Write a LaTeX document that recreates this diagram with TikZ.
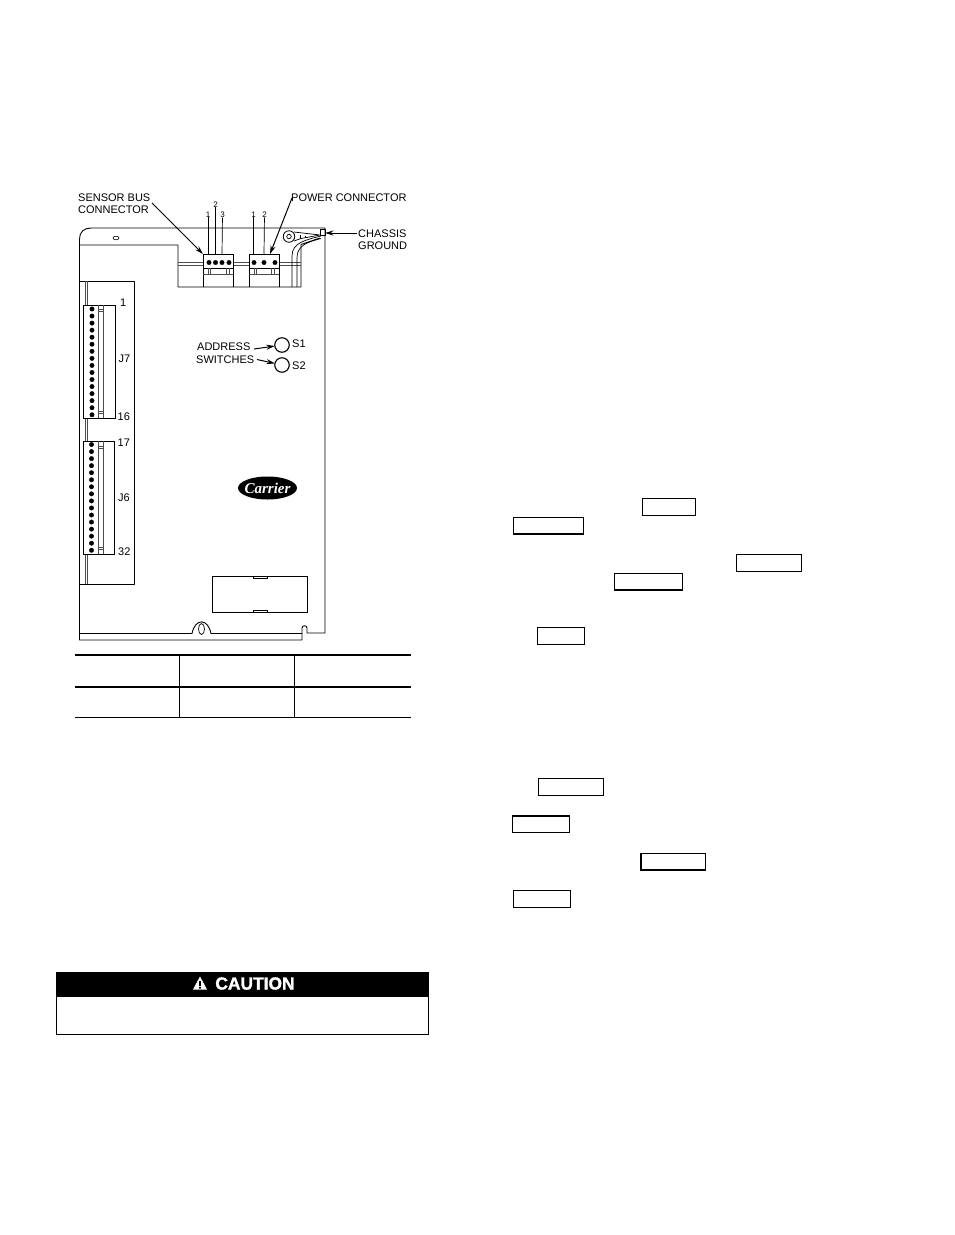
\documentclass[tikz,border=0pt]{standalone}
\usepackage{fontspec}
\setmainfont{Liberation Sans}
\newfontfamily\logofont{Liberation Serif}
\newfontfamily\cautionfont[BoldFeatures={FakeBold=1.6}]{Liberation Sans}
\usetikzlibrary{arrows.meta,shapes.geometric}
\tikzstyle{callout}=[inner sep=0pt,font=\fontsize{11}{12.4}\selectfont]
\tikzstyle{pinno}=[inner sep=0pt,font=\fontsize{8}{9}\selectfont]
\tikzstyle{blackpin}=[circle,draw=black,fill=black,inner sep=0pt,minimum size=4.4pt]
\tikzstyle{switchdot}=[circle,draw=black,fill=white,line width=1.1pt,inner sep=0pt,outer sep=0pt,minimum size=14.5pt]
\tikzstyle{keybox}=[draw=black,line width=1pt,inner sep=0pt,outer sep=0pt,anchor=north west]
\tikzstyle{leader}=[line width=1pt,-{Stealth[length=8.5pt,width=5pt]}]
\tikzstyle{board}=[line width=0.9pt,line join=round]
\tikzstyle{thinline}=[line width=0.5pt,black!70]

\begin{document}
\begin{tikzpicture}[x=1pt,y=-1pt]
    \useasboundingbox (0,0) rectangle (954,1235);

    % board outline
    \draw[board] (79.5,245) -- (79.5,239) .. controls (79.5,232) and (84,228) .. (91,228)
      -- (325,228) -- (325,633) -- (307,633) -- (307,628) .. controls (307,625) and (302,625) .. (302,628)
      -- (302,640) -- (79.5,640) -- cycle;
    \draw[board] (79.5,633.5) -- (192,633.5) .. controls (195,618) and (208,618) .. (211,633.5) -- (302,633.5);
    \node (hole1) at (116,238) [draw,ellipse,line width=0.6pt,inner sep=0pt,minimum width=6pt,minimum height=3.5pt]{};
    \draw[line width=0.7pt] (201.5,629) ellipse [x radius=3,y radius=5.5];

    % top recess
    \draw[board] (79.5,245) -- (178,245) -- (178,287) -- (301,287) -- (301,244.5) -- (320,238);
    \draw[thinline] (178,262.5) -- (203,262.5) (178,265) -- (203,265);
    \draw[thinline] (233,262.5) -- (249,262.5) (233,265) -- (249,265);
    \draw[thinline] (279,262.5) -- (301,262.5) (279,265) -- (301,265);

    % left recess
    \draw[board] (79.5,281) -- (134,281) -- (134,584) -- (79.5,584);
    \draw[thinline] (85.5,281) -- (85.5,305) (87.5,281) -- (87.5,305);
    \draw[thinline] (85.5,418) -- (85.5,441) (87.5,418) -- (87.5,441);
    \draw[thinline] (85.5,554) -- (85.5,584) (87.5,554) -- (87.5,584);

    % sensor bus connector
    \node (sbus) at (203,254) [keybox,minimum width=30pt,minimum height=14pt]{};
    \draw[board] (203,268) -- (203,287) (233,268) -- (233,287);
    \foreach \xp in {209,215.5,222,229} \node (sb\xp) at (\xp,262.5) [blackpin]{};
    \draw[thinline] (208,268) -- (208,274) (210.5,268) -- (210.5,274) (226,268) -- (226,274) (229,268) -- (229,274);
    \draw[thinline] (203,274) -- (233,274);

    % power connector
    \node (pwr) at (249,254) [keybox,minimum width=30pt,minimum height=14pt]{};
    \draw[board] (249,268) -- (249,287) (279,268) -- (279,287);
    \foreach \xp in {254,264,275} \node (pw\xp) at (\xp,262.5) [blackpin]{};
    \draw[thinline] (254,268) -- (254,274) (256.5,268) -- (256.5,274) (271,268) -- (271,274) (274,268) -- (274,274);
    \draw[thinline] (249,274) -- (279,274);

    % pin numbers
    \node (sn1) at (208,214.5) [pinno]{1};
    \node (sn2) at (215.5,204.5) [pinno]{2};
    \node (sn3) at (222.5,214.5) [pinno]{3};
    \node (pn1) at (253.5,214.5) [pinno]{1};
    \node (pn2) at (264.5,214.5) [pinno]{2};
    \coordinate (sb1) at (208,254);
    \coordinate (sb2) at (215.5,254);
    \coordinate (sb3) at (222,254);
    \coordinate (pw1) at (253.5,254);
    \coordinate (pw2) at (264,254);
    \draw[line width=0.7pt] (sn1) -- (sb1);
    \draw[line width=0.7pt] (sn2) -- (sb2);
    \draw[line width=0.7pt] (sn3) -- (sb3);
    \draw[line width=0.7pt] (pn1) -- (pw1);
    \draw[line width=0.7pt] (pn2) -- (pw2);

    % ground lug and wire
    \node (lug) at (289,236.5) [circle,draw=black,line width=0.8pt,inner sep=0pt,outer sep=0pt,minimum size=11.5pt]{};
    \node (lughole) at (289,236.5) [circle,draw=black,line width=0.7pt,inner sep=0pt,outer sep=0pt,minimum size=4.5pt]{};
    \node (tab) at (320.5,229) [keybox,minimum width=4.5pt,minimum height=6pt]{};
    \draw[line width=0.7pt] (294,232) -- (320,235) (294,241) -- (301,238.5) -- (320,235);
    \draw[line width=0.7pt] (321,236) .. controls (305,240) and (292,243) .. (292,256) -- (292,287);
    \draw[line width=0.7pt] (321,238.5) .. controls (308,242) and (297,245) .. (297,258) -- (297,287);
    \draw[line width=0.5pt] (300,235) -- (300,239) (305,235.5) -- (305,238);

    % connectors J7 and J6
    \node (jseven) at (83.5,305) [keybox,minimum width=31.5pt,minimum height=113pt]{};
    \draw[thinline] (98,305) -- (98,418) (103,305) -- (103,418);
    \draw[thinline] (98,309) -- (103,309) (98,311) -- (103,311) (98,411) -- (103,411) (98,413) -- (103,413);
    \foreach \n in {0,...,15} \node (aa\n) at (92,309+7.05*\n) [blackpin]{};
    \node (jsix) at (83.5,441) [keybox,minimum width=31pt,minimum height=113pt]{};
    \draw[thinline] (98,441) -- (98,554) (103,441) -- (103,554);
    \draw[thinline] (98,446) -- (103,446) (98,448) -- (103,448) (98,547) -- (103,547) (98,549) -- (103,549);
    \foreach \n in {0,...,15} \node (bb\n) at (91.5,444.5+7.05*\n) [blackpin]{};
    \node (no1) at (120,302.5) [callout,anchor=west]{1};
    \node (nj7) at (118.5,359) [callout,anchor=west]{J7};
    \node (no16) at (117.5,416.5) [callout,anchor=west]{16};
    \node (no17) at (117.5,442.5) [callout,anchor=west]{17};
    \node (nj6) at (118,498) [callout,anchor=west]{J6};
    \node (no32) at (118,551.5) [callout,anchor=west]{32};

    % callouts
    \node (sensor) at (78,203.5) [callout,align=left,anchor=west]{SENSOR BUS\\CONNECTOR};
    \node (power) at (291,198) [callout,anchor=west]{POWER CONNECTOR};
    \node (chassis) at (358,239.5) [callout,align=left,anchor=west]{CHASSIS\\GROUND};
    \coordinate (sensorfrom) at (152,203);
    \coordinate (powerfrom) at (292,198);
    \coordinate (chassisfrom) at (357,233);
    \coordinate (chassisto) at (325,233);
    \coordinate (sensorto) at (203,254);
    \coordinate (powerto) at (270,254);
    \draw[leader] (sensorfrom) -- (sensorto);
    \draw[leader] (powerfrom) -- (powerto);
    \draw[leader] (chassisfrom) -- (chassisto);

    % address switches
    \node (swa) at (282,345) [switchdot]{};
    \node (swb) at (282,365) [switchdot]{};
    \node (sone) at (292,344) [callout,anchor=west]{S1};
    \node (stwo) at (292,365.5) [callout,anchor=west]{S2};
    \node (addr) at (197,346.5) [callout,anchor=west]{ADDRESS};
    \node (swit) at (196,359.5) [callout,anchor=west]{SWITCHES};
    \coordinate (addrfrom) at (254,349);
    \coordinate (switfrom) at (257,359.5);
    \draw[leader] (addrfrom) -- (swa);
    \draw[leader] (switfrom) -- (swb);

    % logo
    \node (logo) at (267.5,488) [ellipse,fill=black,inner sep=0pt,outer sep=0pt,minimum width=59pt,minimum height=23pt]{};
    \node (logotext) at (267.5,488) [inner sep=0pt,text=white,font=\logofont\bfseries\itshape\fontsize{15}{15}\selectfont]{Carrier};

    % label plate
    \node (plate) at (212,576) [keybox,line width=0.7pt,minimum width=95pt,minimum height=36pt]{};
    \draw[line width=0.6pt] (253,576) -- (253,578) -- (267,578) -- (267,576);
    \draw[line width=0.6pt] (253,612) -- (253,610) -- (267,610) -- (267,612);

    % empty table
    \coordinate (tl) at (75,655);
    \coordinate (tr) at (411,655);
    \coordinate (ml) at (75,687);
    \coordinate (mr) at (411,687);
    \coordinate (bl) at (75,717);
    \coordinate (br) at (411,717);
    \draw[line width=1.8pt] (tl) -- (tr);
    \draw[line width=1.8pt] (ml) -- (mr);
    \draw[line width=0.9pt] (bl) -- (br);
    \draw[line width=0.9pt] (179.5,655) -- (179.5,717) (294.5,655) -- (294.5,717);

    % caution panel
    \node (panel) at (56.5,972) [keybox,minimum width=372pt,minimum height=62pt]{};
    \fill[black] (56.5,972) rectangle (428.5,997);
    \node (caution) at (255,983.5) [inner sep=0pt,text=white,font=\cautionfont\bfseries\fontsize{17.4}{18}\selectfont]{CAUTION};
    \coordinate (tria) at (200,976.5);
    \coordinate (trib) at (193,989.5);
    \coordinate (tric) at (207,989.5);
    \fill[white] (tria) -- (tric) -- (trib) -- cycle;
    \fill[black] (199.2,981) rectangle (200.8,986) (199.2,987) rectangle (200.8,988.5);

    % key boxes
    \node (ka) at (642,498.5) [keybox,minimum width=53.5pt,minimum height=17pt]{};
    \node (kb) at (513.5,517.5) [keybox,minimum width=69.5pt,minimum height=16.5pt]{};
    \node (kc) at (736.5,554.5) [keybox,minimum width=65pt,minimum height=16.5pt]{};
    \node (kd) at (614.5,573.5) [keybox,minimum width=68pt,minimum height=16.5pt]{};
    \node (ke) at (537.5,627.5) [keybox,minimum width=47pt,minimum height=17pt]{};
    \node (kf) at (538.5,778) [keybox,minimum width=65pt,minimum height=17pt]{};
    \node (kg) at (512.5,815.5) [keybox,minimum width=57pt,minimum height=17pt]{};
    \node (kh) at (640.5,853.5) [keybox,minimum width=65pt,minimum height=17pt]{};
    \node (ki) at (513.5,890.5) [keybox,minimum width=57pt,minimum height=17pt]{};
    \draw[line width=1.8pt] ([yshift=0.4pt]kb.south west) -- ([yshift=0.4pt]kb.south east);
    \draw[line width=1.8pt] ([yshift=0.4pt]kd.south west) -- ([yshift=0.4pt]kd.south east);
    \draw[line width=2pt] ([yshift=-0.6pt]kg.north west) -- ([yshift=-0.6pt]kg.north east);
    \draw[line width=2pt] ([xshift=0.6pt]kh.north west) -- ([xshift=0.6pt]kh.south west);
    \draw[line width=2pt] ([yshift=0.4pt]kh.south west) -- ([yshift=0.4pt]kh.south east);
  \end{tikzpicture}
\end{document}
